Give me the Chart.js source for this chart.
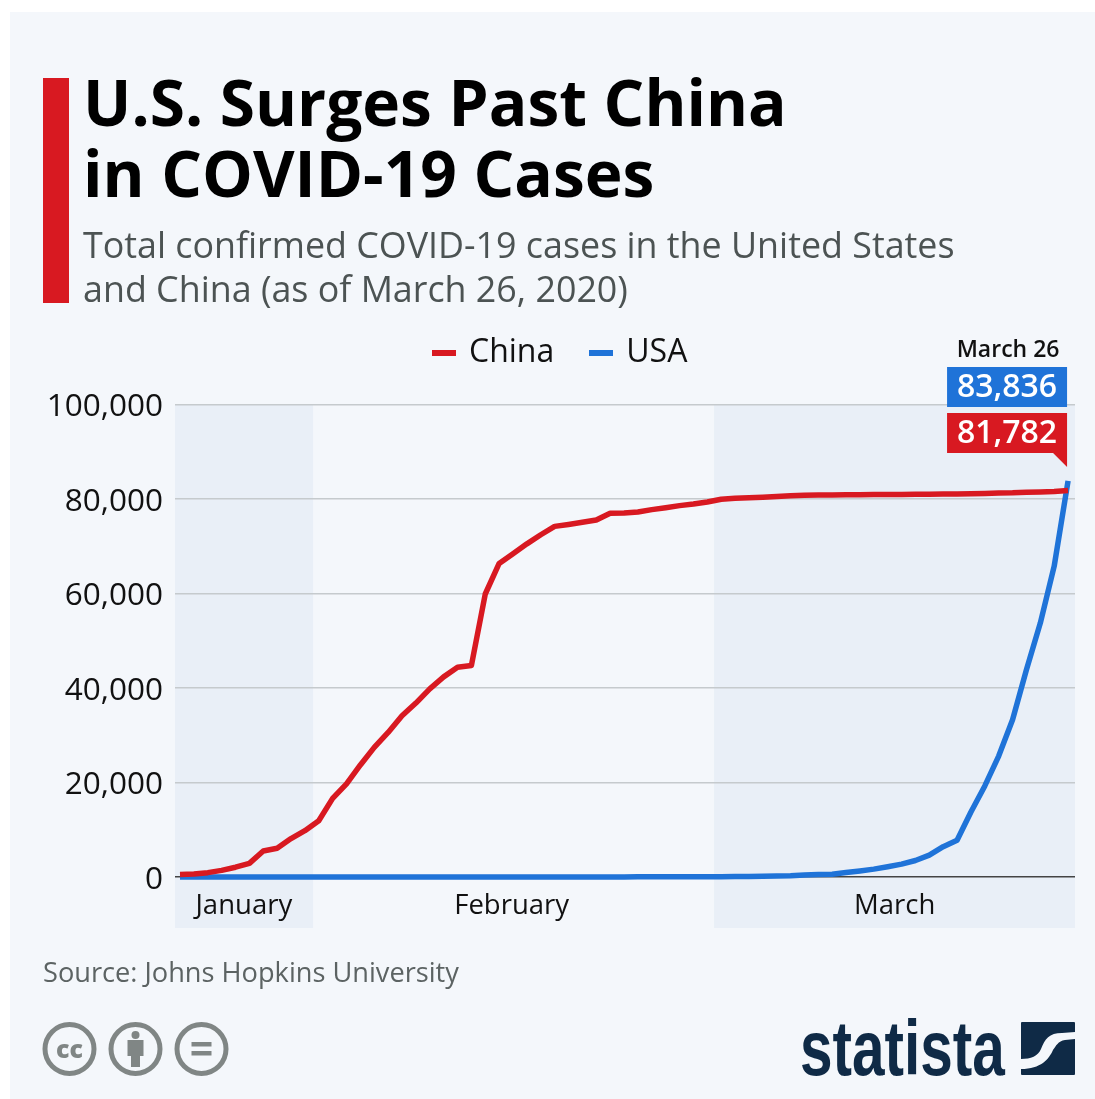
<!DOCTYPE html>
<html>
<head>
<meta charset="utf-8">
<title>U.S. Surges Past China in COVID-19 Cases</title>
<script src="https://cdn.jsdelivr.net/npm/chart.js@4"></script>
<style>
  html, body { margin: 0; padding: 0; background: #fff; }
  body { width: 1095px; height: 1099px; position: relative; overflow: hidden; font-family: "Open Sans", sans-serif; }
  #panel { position: absolute; left: 10px; top: 12px; right: 0; bottom: 0; background: #f4f7fb; }
  #bar { position: absolute; left: 43px; top: 78px; width: 26px; height: 225px; background: #d81921; }
  #title { position: absolute; left: 83px; top: 66px; font-size: 64px; line-height: 71px; font-weight: 700; color: #000; white-space: nowrap; }
  #subtitle { position: absolute; left: 83px; top: 223px; font-size: 35.85px; line-height: 44px; color: #4c5353; white-space: nowrap; }
  #legend { position: absolute; left: 432px; top: 328px; height: 44px; font-size: 32px; line-height: 44px; color: #111; white-space: nowrap; }
  #legend i { display: inline-block; width: 24px; height: 6px; vertical-align: middle; margin: 0 13px 0 0; position: relative; top: 0; }
  #legend span { margin-right: 35px; }
  #source { position: absolute; left: 43px; top: 953px; font-size: 27.2px; line-height: 38px; color: #5c6363; white-space: nowrap; }
  #chart { position: absolute; left: 0; top: 0; }
  #wordmark { position: absolute; left: 800px; top: 1004px; font-family: "Liberation Sans", sans-serif; font-weight: 700; font-size: 78px; line-height: 88px; color: #0f2a46; white-space: nowrap; transform: scaleX(.75); transform-origin: left top; }
  svg { position: absolute; }
</style>
</head>
<body>
<div id="panel"></div>
<canvas id="chart" width="1095" height="1099" style="width:1095px;height:1099px"></canvas>
<div id="bar"></div>
<div id="title">U.S. Surges Past China<br>in COVID-19 Cases</div>
<div id="subtitle">Total confirmed COVID-19 cases in the United States<br>and China (as of March 26, 2020)</div>
<div id="legend"></div>
<div id="source">Source: Johns Hopkins University</div>

<svg style="left:40px;top:1020px" width="192" height="58" viewBox="0 0 192 58">
  <g fill="none" stroke="#808685" stroke-width="5">
    <circle cx="29.5" cy="29" r="24.5"/><circle cx="95.5" cy="29" r="24.5"/><circle cx="161.5" cy="29" r="24.5"/>
  </g>
  <g fill="#808685">
    <text x="29.5" y="38" text-anchor="middle" font-family="Open Sans" font-weight="800" font-size="25">cc</text>
    <circle cx="95.5" cy="15" r="4"/>
    <rect x="87.5" y="20" width="16" height="16"/>
    <rect x="91" y="34" width="9" height="13"/>
    <rect x="151.5" y="22" width="20" height="4.5"/>
    <rect x="151.5" y="31" width="20" height="4.5"/>
  </g>
</svg>
<div id="wordmark">statista</div>
<svg style="left:1021px;top:1022px" width="54" height="54" viewBox="0 0 54 54">
  <rect width="54" height="53" rx="1" fill="#0f2a46"/>
  <path d="M0 37 C10 37 17 34 20 27 C24 17 28 11 41 11 L54 10 L54 17 L44 18 C37 19 35 24 32 28 C28 37 20 47 0 47 Z" fill="#f4f7fb"/>
</svg>

<script>
// days on the x axis, one per reported total
const days = [
  'Jan 22','Jan 23','Jan 24','Jan 25','Jan 26','Jan 27','Jan 28','Jan 29','Jan 30','Jan 31',
  'Feb 1','Feb 2','Feb 3','Feb 4','Feb 5','Feb 6','Feb 7','Feb 8','Feb 9','Feb 10',
  'Feb 11','Feb 12','Feb 13','Feb 14','Feb 15','Feb 16','Feb 17','Feb 18','Feb 19','Feb 20',
  'Feb 21','Feb 22','Feb 23','Feb 24','Feb 25','Feb 26','Feb 27','Feb 28','Feb 29',
  'Mar 1','Mar 2','Mar 3','Mar 4','Mar 5','Mar 6','Mar 7','Mar 8','Mar 9','Mar 10',
  'Mar 11','Mar 12','Mar 13','Mar 14','Mar 15','Mar 16','Mar 17','Mar 18','Mar 19','Mar 20',
  'Mar 21','Mar 22','Mar 23','Mar 24','Mar 25','Mar 26'
];
const china = [
  548,643,920,1406,2075,2877,5509,6087,8141,9802,
  11891,16630,19716,23707,27440,30587,34110,36814,39829,42354,
  44386,44759,59895,66358,68413,70513,72434,74211,74619,75077,
  75550,77001,77022,77241,77754,78166,78600,78928,79356,
  79932,80136,80261,80386,80537,80690,80770,80823,80860,80887,
  80921,80932,80945,80977,81003,81021,81048,81077,81120,81156,
  81250,81305,81435,81498,81591,81782
];
const usa = [
  1,1,2,2,5,5,5,5,5,7,
  8,8,11,11,11,11,11,11,11,11,
  12,12,13,13,13,13,13,13,13,13,
  15,15,15,51,51,57,58,60,68,
  74,98,118,149,217,262,402,518,583,959,
  1281,1663,2179,2727,3499,4632,6421,7783,13747,19273,
  25600,33276,43847,53740,65778,83836
];
const yTicks = [0, 20000, 40000, 60000, 80000, 100000];
const monthNames = ['January', 'February', 'March'];
const monthCentres = [4.6, 23.9, 51.5];
const shadedMonths = [[-0.36, 9.59], [38.49, 64.5]];

const RED = '#d81921';
const BLUE = '#1f73d8';
const fmt = n => n.toLocaleString('en-US');

document.getElementById('legend').innerHTML =
  `<i style="background:${RED}"></i><span>China</span><i style="background:${BLUE}"></i>USA`;

// shaded month bands run below the axis, down behind the month names
const bandsPlugin = {
  id: 'bands',
  beforeDraw(c) {
    const { ctx, scales: { x, y } } = c;
    ctx.save();
    ctx.fillStyle = '#e9eff7';
    shadedMonths.forEach(([a, b]) => {
      const left = x.getPixelForValue(a);
      const right = x.getPixelForValue(b);
      ctx.fillRect(left, y.getPixelForValue(100000), right - left, 928 - y.getPixelForValue(100000));
    });
    ctx.restore();
  }
};

// March 26 callout boxes above the last point
const calloutPlugin = {
  id: 'callout',
  afterDatasetsDraw(c) {
    const { ctx, scales: { x } } = c;
    const right = x.getPixelForValue(days.length - 1) - 1;
    const left = right - 120;
    ctx.save();
    ctx.textAlign = 'center';
    ctx.textBaseline = 'middle';
    ctx.fillStyle = '#111';
    ctx.font = '600 23px "Open Sans"';
    ctx.fillText('March 26', left + 61, 350);

    ctx.fillStyle = BLUE;
    ctx.fillRect(left, 367, 120, 40);
    ctx.fillStyle = RED;
    ctx.beginPath();
    ctx.moveTo(left, 413);
    ctx.lineTo(right, 413);
    ctx.lineTo(right, 467);
    ctx.lineTo(right - 14, 453);
    ctx.lineTo(left, 453);
    ctx.closePath();
    ctx.fill();

    ctx.fillStyle = '#fff';
    ctx.font = '600 32px "Open Sans"';
    ctx.fillText(fmt(usa[usa.length - 1]), left + 60, 388);
    ctx.fillText(fmt(china[china.length - 1]), left + 60, 434);
    ctx.restore();
  }
};

new Chart(document.getElementById('chart').getContext('2d'), {
  type: 'line',
  data: {
    datasets: [
      { label: 'China', data: china.map((v, i) => ({ x: i, y: v })), borderColor: RED, borderWidth: 5.5, pointRadius: 0, tension: 0, clip: false, borderJoinStyle: 'round' },
      { label: 'USA', data: usa.map((v, i) => ({ x: i, y: v })), borderColor: BLUE, borderWidth: 5.5, pointRadius: 0, tension: 0, clip: false, borderJoinStyle: 'round' }
    ]
  },
  options: {
    responsive: false,
    animation: false,
    devicePixelRatio: 1,
    layout: { padding: { top: 404.5, right: 20, left: 0, bottom: 0 } },
    plugins: { legend: { display: false }, tooltip: { enabled: false } },
    scales: {
      x: {
        type: 'linear',
        min: -0.36,
        max: 64.5,
        grid: { display: false },
        border: { display: false },
        afterBuildTicks(s) { s.ticks = monthCentres.map(v => ({ value: v })); },
        afterFit(s) { s.height = 222; },
        ticks: {
          autoSkip: false,
          maxRotation: 0,
          padding: 5,
          color: '#111',
          font: { family: 'Open Sans', size: 27.5 },
          callback: v => monthNames[monthCentres.indexOf(v)]
        }
      },
      y: {
        min: 0,
        max: 100000,
        afterBuildTicks(s) { s.ticks = yTicks.map(v => ({ value: v })); },
        afterFit(s) { s.width = 175; },
        border: { display: false },
        grid: {
          drawTicks: false,
          lineWidth: 1.5,
          color: ctx => ctx.tick.value === 0 ? '#444' : '#c5cacd'
        },
        ticks: {
          padding: 12,
          labelOffset: 3,
          color: '#111',
          font: { family: 'Open Sans', size: 31.5 },
          callback: v => fmt(v)
        }
      }
    }
  },
  plugins: [bandsPlugin, calloutPlugin]
});
</script>
</body>
</html>
